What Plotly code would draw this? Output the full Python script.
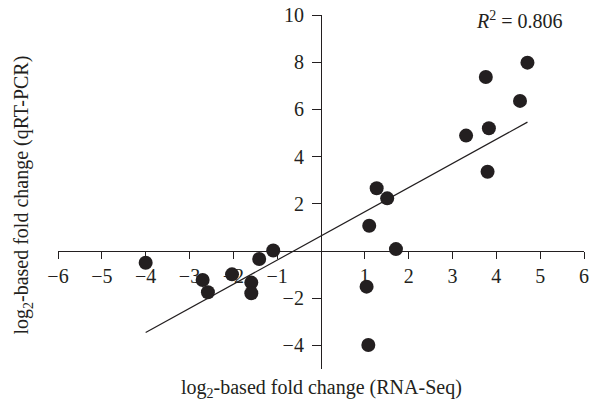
import numpy as np
import plotly.graph_objects as go

# Data
rna_seq = [-4.0, -2.70, -2.58, -2.03, -1.41, -1.09, -1.59, -1.59,
           1.04, 1.08, 1.10, 1.27, 1.51, 1.71, 3.31, 3.76, 3.83, 3.80, 4.54, 4.71]
qrt_pcr = [-0.50, -1.23, -1.75, -0.99, -0.34, 0.02, -1.34, -1.79,
           -1.51, -3.98, 1.07, 2.66, 2.23, 0.08, 4.89, 7.37, 5.20, 3.36, 6.36, 7.98]
x_ticks = [-6, -5, -4, -3, -2, -1, 1, 2, 3, 4, 5, 6]
y_ticks = [-4, -2, 2, 4, 6, 8, 10]
r2_text = "0.806"

xa = np.array(rna_seq)
ya = np.array(qrt_pcr)
slope, intercept = np.polyfit(xa, ya, 1)
fit_x = np.array([xa.min(), xa.max()])
fit_y = slope * fit_x + intercept

ink = "#231f20"
font_family = "Liberation Serif, Times New Roman, serif"
fs = 20

fig = go.Figure()
fig.add_trace(go.Scatter(x=fit_x, y=fit_y, mode="lines",
                         line=dict(color=ink, width=1.2), hoverinfo="skip",
                         showlegend=False))
fig.add_trace(go.Scatter(x=rna_seq, y=qrt_pcr, mode="markers",
                         marker=dict(color=ink, size=14), showlegend=False))

x_min, x_max = -6, 6
y_min, y_max = -5, 10

fig.update_layout(
    width=589, height=406,
    margin=dict(l=58, r=5, t=15, b=37, autoexpand=False),
    paper_bgcolor="white", plot_bgcolor="white",
    font=dict(family=font_family, size=fs, color=ink),
    xaxis=dict(range=[x_min, x_max], anchor="free", automargin=False,
               position=(0 - y_min) / (y_max - y_min),
               showgrid=False, zeroline=False, showline=True,
               linecolor=ink, linewidth=1.2,
               ticks="outside", ticklen=7, tickwidth=1.2, tickcolor=ink,
               tickmode="array", tickvals=x_ticks, ticklabeloverflow="allow",
               ticklabelstandoff=0, layer="below traces"),
    yaxis=dict(range=[y_min, y_max], anchor="free", automargin=False,
               position=(0 - x_min) / (x_max - x_min),
               showgrid=False, zeroline=False, showline=True,
               linecolor=ink, linewidth=1.2,
               ticks="outside", ticklen=9, tickwidth=1.2, tickcolor=ink,
               tickmode="array", tickvals=y_ticks, ticklabeloverflow="allow",
               ticklabelstandoff=4, layer="below traces"),
    annotations=[
        dict(text="log<sub>2</sub>-based fold change (RNA-Seq)",
             xref="paper", yref="paper", x=0.5, y=-0.054,
             xanchor="center", yanchor="middle", showarrow=False,
             font=dict(size=fs)),
        dict(text="log<sub>2</sub>-based fold change (qRT-PCR)",
             xref="paper", yref="paper", x=-0.0665, y=0.49,
             xanchor="center", yanchor="middle", textangle=-90,
             showarrow=False, font=dict(size=fs)),
        dict(text="<i>R</i><sup>2</sup> = " + r2_text,
             xref="paper", yref="paper", x=0.878, y=0.986,
             xanchor="center", yanchor="middle", showarrow=False,
             font=dict(size=fs)),
    ],
)

fig.write_html(
    "out.html",
    config={"displayModeBar": False},
    post_script="document.body.style.margin='0';document.body.style.overflow='hidden';",
)
